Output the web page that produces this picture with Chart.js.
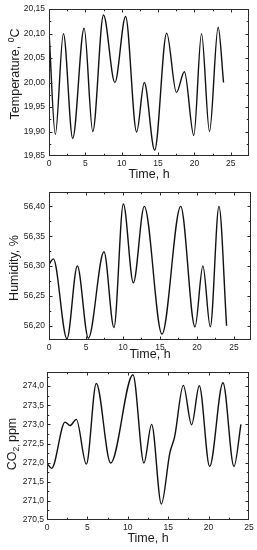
<!DOCTYPE html>
<html><head><meta charset="utf-8">
<script src="https://cdn.jsdelivr.net/npm/chart.js@4/dist/chart.umd.min.js"></script>
<style>
html,body{margin:0;padding:0;background:#fff;}
#wrap{position:relative;width:257px;height:550px;overflow:hidden;}
canvas{position:absolute;left:0;}
</style></head>
<body><div id="wrap">
<canvas id="c1" width="257" height="183" style="top:0px;width:257px;height:183px"></canvas>
<canvas id="c2" width="257" height="180" style="top:183px;width:257px;height:180px"></canvas>
<canvas id="c3" width="257" height="187" style="top:363px;width:257px;height:187px"></canvas>
</div>
<script>
// ---- data ----
const tempTime = [0,0.87,1.98,3.26,4.83,6.02,7.49,9.06,10.53,12.05,13.10,14.53,16.18,17.52,18.62,19.91,20.97,22.07,23.26,24.0];
const tempVals = [20.105,19.894,20.10,19.886,20.111,19.90,20.138,20.00,20.135,19.899,20.00,19.862,20.101,19.98,20.022,19.892,20.10,19.90,20.113,20.00];
const humTime = [0,0.59,2.43,3.83,5.32,7.43,8.78,10.05,11.4,12.88,15.27,17.8,19.73,20.8,21.8,22.97,24];
const humVals = [56.303,56.312,56.178,56.30,56.179,56.324,56.197,56.404,56.272,56.40,56.186,56.40,56.198,56.30,56.198,56.40,56.20];
const co2Time = [0,0.58,2.23,2.85,3.63,4.87,6.1,7.88,10.64,12.0,12.95,14.15,15.2,15.8,16.87,17.9,18.85,20.13,21.78,23.14,24];
const co2Vals = [271.98,271.85,273.06,272.97,273.13,271.96,274.07,271.99,274.30,271.99,273.0,270.92,272.25,272.68,274.02,272.99,274.01,271.9,274.09,271.9,273.0];
const xTitle = 'Time, h';
const tempTitle = [{t:'Temperature, '},{t:'0',sup:true},{t:'C'}];
const humTitle = [{t:'Humidity, %'}];
const co2Title = [{t:'CO'},{t:'2',sub:true},{t:', ',sub:true},{t:'ppm'}];

const FONT = '"Liberation Sans", Arial, sans-serif';

const framePlugin = {
  id: 'frame',
  afterDatasetsDraw(chart, args, o) {
    const {ctx, chartArea: a, scales: {x, y}} = chart;
    const L = Math.round(a.left) + 0.5, R = Math.round(a.right) - 0.5;
    const T = Math.round(a.top) + 0.5, B = Math.round(a.bottom) - 0.5;
    ctx.save();
    ctx.strokeStyle = '#2a2a2a'; ctx.lineWidth = 1;
    ctx.strokeRect(L, T, R - L, B - T);
    const major = 3, minor = 1.8;
    const xt = x.ticks.map(t => t.value);
    const xs = xt[1] - xt[0];
    const xAll = [];
    for (let v = x.min; v <= x.max + 1e-9; v += xs / 2) xAll.push(v);
    ctx.beginPath();
    xAll.forEach((v, i) => {
      const p = Math.round(x.getPixelForValue(v)) + 0.5;
      const len = (i % 2 === 0) ? major : minor;
      if (p <= L + 0.1 || p >= R - 0.1) return;
      ctx.moveTo(p, B); ctx.lineTo(p, B - len);
      ctx.moveTo(p, T); ctx.lineTo(p, T + len);
    });
    const yt = y.ticks.map(t => t.value);
    const ys = yt[1] - yt[0];
    for (let v = yt[0] - ys; v <= y.max + 1e-9; v += ys / 2) {
      if (v < y.min - 1e-9) continue;
      const k = Math.round((v - yt[0]) / ys * 2);
      const len = (k % 2 === 0) ? major : minor;
      const p = Math.round(y.getPixelForValue(v)) + 0.5;
      if (p <= T + 0.1 || p >= B - 0.1) continue;
      ctx.moveTo(L, p); ctx.lineTo(L + len, p);
      ctx.moveTo(R, p); ctx.lineTo(R - len, p);
    }
    ctx.stroke();
    ctx.fillStyle = '#1a1a1a';
    ctx.font = '12.5px ' + FONT;
    ctx.textAlign = 'center'; ctx.textBaseline = 'middle';
    ctx.fillText(o.xTitle, (a.left + a.right) / 2, o.xTitleY);
    ctx.translate(o.yTitleX, o.yTitleY);
    ctx.rotate(-Math.PI / 2);
    ctx.textAlign = 'left';
    const fMain = '12.5px ' + FONT, fSmall = '8.5px ' + FONT;
    let total = 0;
    o.yTitle.forEach(p => { ctx.font = (p.sup || p.sub) ? fSmall : fMain; total += ctx.measureText(p.t).width; });
    let cx = -total / 2;
    o.yTitle.forEach(p => {
      ctx.font = (p.sup || p.sub) ? fSmall : fMain;
      const dy = p.sup ? -4.5 : (p.sub ? 3.5 : 0);
      ctx.fillText(p.t, cx, dy);
      cx += ctx.measureText(p.t).width;
    });
    ctx.restore();
  }
};

function makeChart(id, xsArr, ysArr, c) {
  new Chart(document.getElementById(id), {
    type: 'line',
    data: { datasets: [{
      data: xsArr.map((v, i) => ({x: v, y: ysArr[i]})),
      borderColor: '#111', borderWidth: 1.4, pointRadius: 0,
      cubicInterpolationMode: 'monotone', fill: false
    }]},
    options: {
      responsive: false, animation: false, events: [],
      layout: { padding: { top: c.padTop, right: c.padRight, left: 0, bottom: 0 } },
      plugins: { legend: {display: false}, tooltip: {enabled: false},
        frame: { xTitle: xTitle, xTitleY: c.xTitleY, yTitle: c.yTitle, yTitleX: c.yTitleX, yTitleY: c.yTitleY } },
      scales: {
        x: { type: 'linear', min: 0, max: c.xMax,
          afterFit(s) { s.height = c.xH; },
          grid: {display: false, drawTicks: false}, border: {display: false},
          ticks: { stepSize: 5, includeBounds: false, padding: 3, maxRotation: 0, autoSkip: false,
            color: '#222', font: {family: FONT, size: 8.5}, callback: v => String(v) } },
        y: { type: 'linear', min: c.yMin, max: c.yMax,
          afterFit(s) { s.width = c.yW; },
          grid: {display: false, drawTicks: false}, border: {display: false},
          ticks: { stepSize: c.yStep, includeBounds: false, padding: c.yPad, autoSkip: false,
            color: '#222', font: {family: FONT, size: 8.5},
            callback: v => v.toFixed(c.dec).replace('.', ',') } }
      }
    },
    plugins: [framePlugin]
  });
}

makeChart('c1', tempTime, tempVals, { padTop: 8, padRight: 8, xH: 27, yW: 49, xMax: 27.5,
  yMin: 19.85, yMax: 20.15, yStep: 0.05, dec: 2, yPad: 4,
  xTitleY: 175, yTitle: tempTitle, yTitleX: 16, yTitleY: 74 });
makeChart('c2', humTime, humVals, { padTop: 7, padRight: 6, xH: 23, yW: 49, xMax: 27.3,
  yMin: 56.176, yMax: 56.424, yStep: 0.05, dec: 2, yPad: 4,
  xTitleY: 172, yTitle: humTitle, yTitleX: 15, yTitleY: 85 });
makeChart('c3', co2Time, co2Vals, { padTop: 9, padRight: 8, xH: 30, yW: 47, xMax: 25,
  yMin: 270.5, yMax: 274.37, yStep: 0.5, dec: 1, yPad: 3,
  xTitleY: 176, yTitle: co2Title, yTitleX: 13, yTitleY: 81 });
</script>
</body></html>
